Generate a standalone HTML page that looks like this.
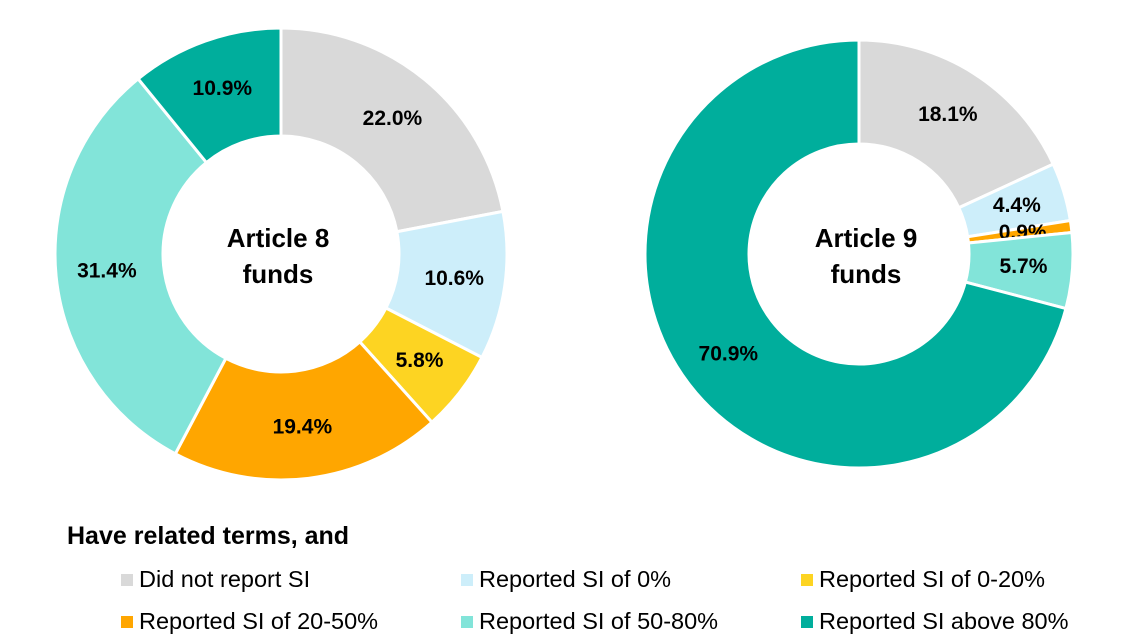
<!DOCTYPE html>
<html><head><meta charset="utf-8"><style>
body{margin:0;background:#fff;width:1126px;height:644px;overflow:hidden;font-family:"Liberation Sans",Arial,sans-serif}
svg{position:absolute;left:0;top:0}
</style></head><body>
<svg id="chart" width="1126" height="644">
<text x="67" y="544" font-size="25" font-weight="bold" fill="#000">Have related terms, and</text>
</svg>
<script>
const categories=["Did not report SI","Reported SI of 0%","Reported SI of 0-20%","Reported SI of 20-50%","Reported SI of 50-80%","Reported SI above 80%"];
const colors=["#d9d9d9","#cdeefa","#fdd422","#ffa600","#82e4d9","#00ae9c"];
const article8=[22.0,10.6,5.8,19.4,31.4,10.9];
const article9=[18.1,4.4,0,0.9,5.7,70.9];
const titles=[["Article 8","funds"],["Article 9","funds"]];
const svg=document.getElementById('chart');
const NS='http://www.w3.org/2000/svg';
function mk(t,a){const e=document.createElementNS(NS,t);for(const k in a)e.setAttribute(k,a[k]);return e;}
function donut(vals,cx,cy,R,r,title,idx){
  const tot=vals.reduce((a,b)=>a+b,0);let a0=0;
  vals.forEach((v,i)=>{
    if(v<=0)return;
    const a1=a0+v/tot*2*Math.PI;
    const p=(ang,rad)=>[cx+rad*Math.sin(ang),cy-rad*Math.cos(ang)];
    const [x1,y1]=p(a0,R),[x2,y2]=p(a1,R),[x3,y3]=p(a1,r),[x4,y4]=p(a0,r);
    const lg=(a1-a0)>Math.PI?1:0;
    const path=mk('path',{d:`M${x1},${y1}A${R},${R} 0 ${lg} 1 ${x2},${y2}L${x3},${y3}A${r},${r} 0 ${lg} 0 ${x4},${y4}Z`,fill:colors[i],stroke:'#fff','stroke-width':3});
    
    
    svg.appendChild(path);
    const am=(a0+a1)/2,[lx,ly]=p(am,(R+r)/2+3);
    const t=mk('text',{x:lx,y:ly+6,'text-anchor':'middle','font-size':21,'font-weight':'bold',fill:'#000'});
    t.textContent=v.toFixed(1)+'%';
    
    
    svg.appendChild(t);
    a0=a1;
  });
  title.forEach((s,k)=>{
    const t=mk('text',{x:cx+(idx==0?-3:7),y:cy-7+k*36,'text-anchor':'middle','font-size':26,'font-weight':'bold',fill:'#000'});
    t.textContent=s;
    
    
    svg.appendChild(t);
  });
}
donut(article8,281,254,226,118,titles[0],0);
donut(article9,859,254,214,110,titles[1],1);
categories.forEach((c,i)=>{
  const x=121+(i%3)*340,y=587+Math.floor(i/3)*42;
  const r=mk('rect',{x:x,y:y-13,width:12,height:12,fill:colors[i]});
  
  
  svg.appendChild(r);
  const t=mk('text',{x:x+18,y:y,'font-size':23.5,fill:'#000'});
  t.textContent=c;
  
  
  svg.appendChild(t);
});
</script>
</body></html>
